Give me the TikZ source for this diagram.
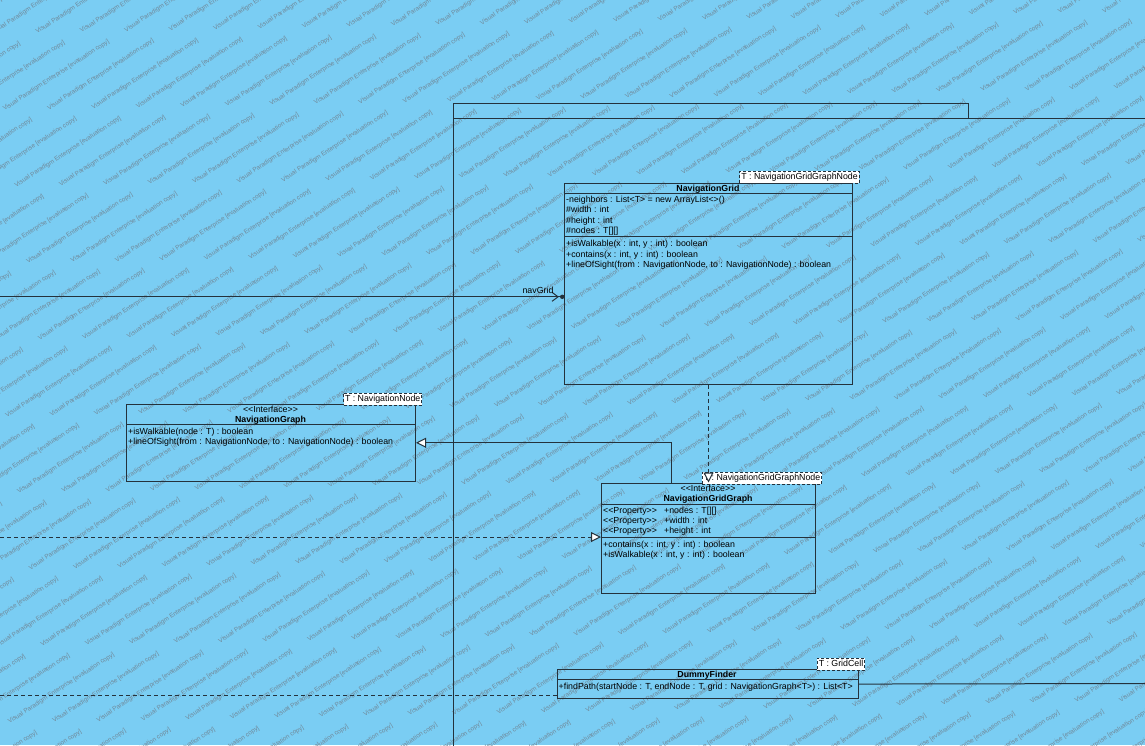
\documentclass[tikz,border=0pt]{standalone}
\usepackage{fontspec}
\newfontfamily\umlfam{Liberation Sans}
\usetikzlibrary{arrows.meta}
\definecolor{bgblue}{RGB}{122,205,243}
\definecolor{umlline}{RGB}{36,50,60}
\definecolor{wmgray}{RGB}{112,136,152}
\newcommand{\umlfont}{\umlfam\fontsize{8.8}{10}\selectfont}
\tikzset{
 classbox/.style={draw=umlline, line width=1pt, inner sep=0pt, anchor=north west},
 umltext/.style={font=\umlfont, inner sep=0pt, text height=6.4pt, text depth=0pt, anchor=west},
 umlname/.style={font=\umlfont\bfseries, inner sep=0pt, text height=6.4pt, text depth=0pt},
 stereo/.style={font=\umlfont, inner sep=0pt, text height=6.4pt, text depth=0pt},
 tmplbox/.style={draw=umlline, fill=white, dash pattern=on 3pt off 2pt, line width=0.8pt, font=\umlfont, inner xsep=1.5pt, inner ysep=2pt, text height=6.4pt, text depth=1.8pt},
 sepline/.style={draw=umlline, line width=1pt},
 link/.style={draw=umlline, line width=1pt},
 dashlink/.style={draw=umlline, line width=1pt, dash pattern=on 4pt off 3pt},
 gentip/.style={-{Triangle[length=10pt,width=10pt,fill=white]}},
 wmark/.style={font=\umlfam\fontsize{6.3}{7}\selectfont, text=wmgray, inner sep=0pt, rotate=33},
}
\begin{document}
\begin{tikzpicture}[x=1pt,y=-1pt]
\fill[bgblue] (0,0) rectangle (1145,745);
\useasboundingbox (0,0) rectangle (1145,745);
% watermark
\begin{scope}
\clip (0,0) rectangle (1145,745);
\foreach \j in {0,...,54}{
  \foreach \i in {-1,...,9}{
    \pgfmathsetmacro{\dd}{\i*145+mod(\j*53,145)}
    \node[wmark] at ({\dd*0.8387},{\j*28-\dd*0.5446}) {Visual Paradigm Enterprise [evaluation copy]};
  }
}
\end{scope}
% package frame
\draw[link] (453,760) -- (453,103) -- (968,103) -- (968,118);
\draw[link] (453,118) -- (1160,118);

% NavigationGrid
\node[classbox, minimum width=288pt, minimum height=201pt] (grid) at (564,183) {};
\node[umlname] (gridN) at (708,188.3) {NavigationGrid};
\draw[sepline] (564,193.3) -- (852,193.3);
\node[umltext] (gridA1) at (566,199.3) {-neighbors : List<T> = new ArrayList<>()};
\node[umltext] (gridA2) at (566,209.5) {\#width : int};
\node[umltext] (gridA3) at (566,219.8) {\#height : int};
\node[umltext] (gridA4) at (566,230.2) {\#nodes : T[][]};
\draw[sepline] (564,236.6) -- (852,236.6);
\node[umltext] (gridO1) at (566,243.5) {+isWalkable(x : int, y : int) : boolean};
\node[umltext] (gridO2) at (566,253.8) {+contains(x : int, y : int) : boolean};
\node[umltext] (gridO3) at (566,264.2) {+lineOfSight(from : NavigationNode, to : NavigationNode) : boolean};
\node[tmplbox] (gridT) at (799.5,177.3) {T : NavigationGridGraphNode};

% NavigationGraph
\node[classbox, minimum width=289pt, minimum height=76.5pt] (navgraph) at (126,404) {};
\node[stereo] (navgraphS) at (270.5,409.7) {<<Interface>>};
\node[umlname] (navgraphN) at (270.5,419.3) {NavigationGraph};
\draw[sepline] (126,424.7) -- (415,424.7);
\node[umltext] (navgraphO1) at (128,431.3) {+isWalkable(node : T) : boolean};
\node[umltext] (navgraphO2) at (128,441.3) {+lineOfSight(from : NavigationNode, to : NavigationNode) : boolean};
\node[tmplbox] (navgraphT) at (382.7,399) {T : NavigationNode};

% NavigationGridGraph
\node[classbox, minimum width=214pt, minimum height=110.5pt] (ngg) at (601,482.5) {};
\node[stereo] (nggS) at (708,488.3) {<<Interface>>};
\node[umlname] (nggN) at (708,498.3) {NavigationGridGraph};
\draw[sepline] (601,504.3) -- (815,504.3);
\node[umltext] (nggP1) at (603,510.3) {<<Property>>};
\node[umltext] (nggP1b) at (664,510.3) {+nodes : T[][]};
\node[umltext] (nggP2) at (603,520.5) {<<Property>>};
\node[umltext] (nggP2b) at (664,520.5) {+width : int};
\node[umltext] (nggP3) at (603,530.7) {<<Property>>};
\node[umltext] (nggP3b) at (664,530.7) {+height : int};
\draw[sepline] (601,537) -- (815,537);
\node[umltext] (nggO1) at (603,544.3) {+contains(x : int, y : int) : boolean};
\node[umltext] (nggO2) at (603,554.3) {+isWalkable(x : int, y : int) : boolean};
\node[tmplbox] (nggT) at (762,478.2) {T : NavigationGridGraphNode};

% DummyFinder
\node[classbox, minimum width=301pt, minimum height=29.5pt] (df) at (556.5,668.8) {};
\node[umlname] (dfN) at (707,674.3) {DummyFinder};
\draw[sepline] (556.5,679.5) -- (857.5,679.5);
\node[umltext] (dfO1) at (558.5,685.8) {+findPath(startNode : T, endNode : T, grid : NavigationGraph<T>) : List<T>};
\node[tmplbox] (dfT) at (841,664.2) {T : GridCell};

% connectors
\coordinate (navL) at (0,296.8);
\coordinate (navE) at (grid.west |- navL);
\draw[link] (navL) -- (navE);
\draw[link] ([xshift=-12pt,yshift=4.5pt]navE) -- ([xshift=-6pt]navE) -- ([xshift=-12pt,yshift=-4.5pt]navE);
\fill[umlline] ([xshift=-1.8pt]navE) circle (2.2pt);
\node[stereo] (navlbl) at (538,290.5) {navGrid};

\draw[dashlink, gentip] (grid.south) -- (ngg.north);
\draw[link, gentip] ([xshift=-37pt]ngg.north) |- (navgraph.east);

\coordinate (lftA) at (0,537);
\draw[dashlink, gentip] (lftA) -- (ngg.west |- lftA);

\coordinate (rgtB) at (1150,683.5);
\draw[link] (df.east) -- (rgtB);

\coordinate (lftC) at (0,695.5);
\draw[dashlink] (lftC) -- (df.west |- lftC);
\end{tikzpicture}
\end{document}
